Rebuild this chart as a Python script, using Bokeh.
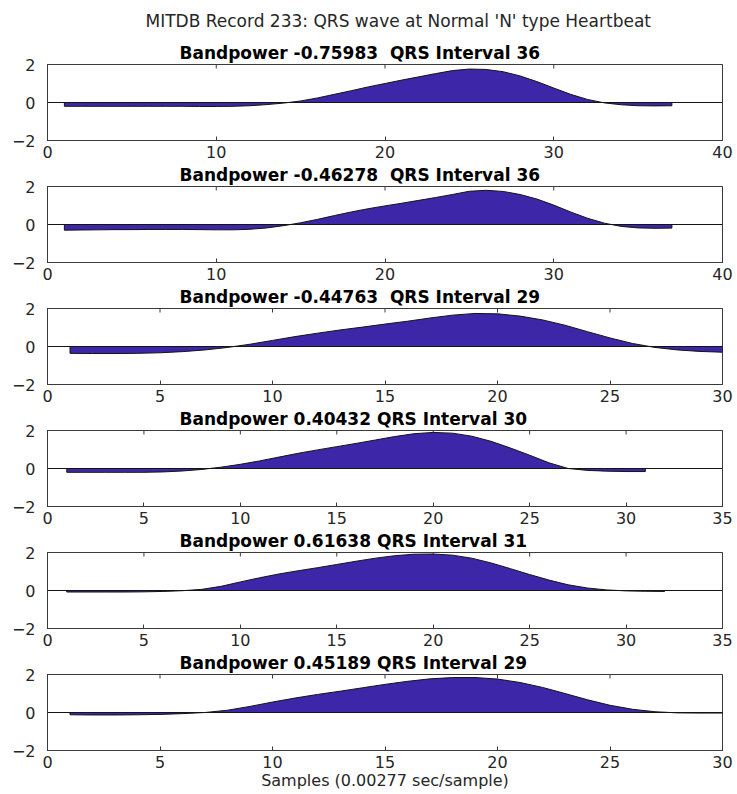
from math import pi

from bokeh.plotting import figure
from bokeh.layouts import column
from bokeh.models import Range1d, FixedTicker, Span, Title
from bokeh.embed import file_html
from bokeh.resources import INLINE

# ---- data -------------------------------------------------------------
SUPTITLE = "MITDB Record 233: QRS wave at Normal 'N' type Heartbeat"
X_LABEL = "Samples (0.00277 sec/sample)"

bandpower = [-0.75983, -0.46278, -0.44763, 0.40432, 0.61638, 0.45189]
qrs_interval = [36, 36, 29, 30, 31, 29]
x_max = [40, 40, 30, 35, 35, 30]
x_tick_step = [10, 10, 5, 5, 5, 5]
y_ticks = [-2, 0, 2]

qrs_1 = [-0.20, -0.20, -0.20, -0.20, -0.20, -0.20, -0.20, -0.20, -0.21, -0.21,
         -0.20, -0.17, -0.11, -0.03, 0.08, 0.24, 0.43, 0.62, 0.82, 1.00,
         1.18, 1.35, 1.52, 1.68, 1.76, 1.74, 1.62, 1.40, 1.10, 0.76,
         0.43, 0.16, -0.02, -0.12, -0.17, -0.18, -0.17]
qrs_2 = [-0.30, -0.29, -0.28, -0.27, -0.27, -0.26, -0.26, -0.26, -0.27, -0.28,
         -0.28, -0.25, -0.18, -0.06, 0.09, 0.27, 0.47, 0.66, 0.83, 0.98,
         1.12, 1.27, 1.42, 1.58, 1.75, 1.80, 1.74, 1.58, 1.34, 1.02,
         0.66, 0.33, 0.07, -0.10, -0.18, -0.20, -0.19]
qrs_3 = [-0.36, -0.37, -0.37, -0.36, -0.33, -0.27, -0.18, -0.05, 0.12, 0.32,
         0.52, 0.70, 0.87, 1.02, 1.18, 1.33, 1.50, 1.65, 1.74, 1.72,
         1.60, 1.40, 1.12, 0.78, 0.45, 0.16, -0.05, -0.18, -0.26, -0.30]
qrs_4 = [-0.20, -0.20, -0.20, -0.20, -0.20, -0.18, -0.13, -0.05, 0.07, 0.22,
         0.40, 0.60, 0.80, 0.98, 1.15, 1.32, 1.50, 1.68, 1.83, 1.90,
         1.86, 1.70, 1.43, 1.08, 0.70, 0.30, 0.00, -0.10, -0.14, -0.16,
         -0.16]
qrs_5 = [-0.08, -0.08, -0.08, -0.08, -0.07, -0.05, -0.01, 0.06, 0.22, 0.45,
         0.67, 0.87, 1.04, 1.20, 1.37, 1.54, 1.70, 1.83, 1.91, 1.92,
         1.86, 1.70, 1.45, 1.15, 0.84, 0.55, 0.30, 0.13, 0.03, -0.02,
         -0.04, -0.05]
qrs_6 = [-0.12, -0.13, -0.13, -0.12, -0.10, -0.06, 0.00, 0.12, 0.32, 0.55,
         0.76, 0.95, 1.12, 1.30, 1.48, 1.64, 1.77, 1.84, 1.84, 1.76,
         1.58, 1.32, 1.00, 0.67, 0.38, 0.17, 0.04, -0.02, -0.03, -0.03]

waves = [qrs_1, qrs_2, qrs_3, qrs_4, qrs_5, qrs_6]

# ---- style ------------------------------------------------------------
FILL = "#3E26A8"
EDGE = "#141414"
AXIS = "#3a3a3a"
TEXT = "#262626"
FONT = "DejaVu Sans"


def style_axis(ax, standoff):
    ax.axis_line_color = AXIS
    ax.major_tick_line_color = AXIS
    ax.major_tick_in = 4
    ax.major_tick_out = 0
    ax.minor_tick_line_color = None
    ax.major_label_text_font = FONT
    ax.major_label_text_font_size = "16px"
    ax.major_label_text_color = TEXT
    ax.major_label_standoff = standoff


def panel_title(i):
    sep = "\u00a0 " if bandpower[i] < 0 else " "
    return f"Bandpower {bandpower[i]}{sep}QRS Interval {qrs_interval[i]}"


def make_panel(i):
    wave = waves[i]
    samples = list(range(1, len(wave) + 1))
    first = i == 0
    last = i == len(waves) - 1

    p = figure(
        frame_width=675, frame_height=76,
        x_range=Range1d(0, x_max[i]), y_range=Range1d(y_ticks[0], y_ticks[-1]),
        output_backend="svg", toolbar_location=None, title=None,
        min_border_left=47, min_border_right=15,
        min_border_top=64 if first else 0, min_border_bottom=0,
        background_fill_color="white", border_fill_color="white",
        outline_line_color=AXIS,
    )
    p.grid.visible = False

    x_ticks = list(range(0, x_max[i] + 1, x_tick_step[i]))
    xaxis = p.below[0]
    yaxis = p.left[0]
    xaxis.ticker = FixedTicker(ticks=x_ticks)
    yaxis.ticker = FixedTicker(ticks=y_ticks)
    style_axis(xaxis, 5)
    style_axis(yaxis, 12)

    # inward ticks mirrored on the top and right edges of the box
    p.scatter(x_ticks, [y_ticks[-1]] * len(x_ticks), marker="dash", size=8,
              angle=pi / 2, line_color=AXIS, line_width=1)
    p.scatter([x_max[i]] * len(y_ticks), y_ticks, marker="dash", size=8,
              line_color=AXIS, line_width=1)

    # area: polygon closed down to the zero baseline at both ends
    px = [samples[0]] + samples + [samples[-1]]
    py = [0] + wave + [0]
    p.patch(px, py, fill_color=FILL, line_color=EDGE, line_width=1)
    p.add_layout(Span(location=0, dimension="width", line_color=EDGE, line_width=1))

    p.add_layout(Title(text=panel_title(i), align="left", offset=132,
                       text_font=FONT, text_font_style="bold",
                       text_font_size="17px", text_color="black",
                       standoff=4), "above")
    if first:
        p.add_layout(Title(text=SUPTITLE, align="left", offset=98,
                           text_font=FONT, text_font_style="normal",
                           text_font_size="17px", text_color=TEXT,
                           standoff=15), "above")
    if last:
        xaxis.axis_label = X_LABEL
        xaxis.axis_label_text_font = FONT
        xaxis.axis_label_text_font_size = "16px"
        xaxis.axis_label_text_font_style = "normal"
        xaxis.axis_label_text_color = TEXT
        xaxis.axis_label_standoff = 0
    return p


layout = column(*[make_panel(i) for i in range(len(waves))], spacing=0)
open("out.html", "w").write(file_html(layout, INLINE))
